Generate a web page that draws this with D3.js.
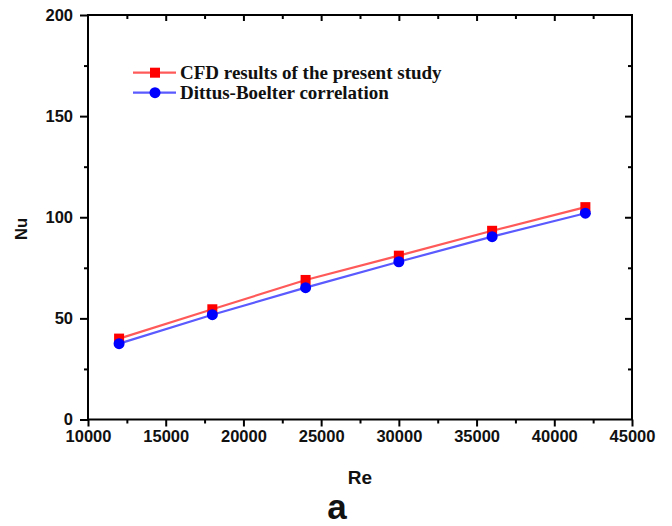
<!DOCTYPE html>
<html>
<head>
<meta charset="utf-8">
<script src="https://cdn.jsdelivr.net/npm/d3@7"></script>
<style>
  body { margin: 0; background: #fff; }
  svg { display: block; }
</style>
</head>
<body>
<svg id="chart" width="672" height="526"></svg>
<script>
// Reynolds numbers and Nusselt numbers for both data sets
const reValues = [12000, 18000, 24000, 30000, 36000, 42000];
const nuCFD = [40, 54.5, 69, 81, 93.3, 105];
const nuDittus = [37.5, 51.8, 65.2, 78, 90.4, 102];
const xTicks = [10000, 15000, 20000, 25000, 30000, 35000, 40000, 45000];
const yTicks = [0, 50, 100, 150, 200];
const seriesNames = ["CFD results of the present study", "Dittus-Boelter correlation"];

const svg = d3.select("#chart");
const plotL = 88, plotR = 632, plotT = 15, plotB = 419.5;

const x = d3.scaleLinear().domain([10000, 45000]).range([plotL, plotR]);
const y = d3.scaleLinear().domain([0, 200]).range([plotB, plotT]);

const xMinor = d3.range(12500, 45000, 5000);
const yMinor = d3.range(25, 200, 50);

// frame
svg.append("rect")
  .attr("x", plotL).attr("y", plotT)
  .attr("width", plotR - plotL).attr("height", plotB - plotT)
  .attr("fill", "none").attr("stroke", "#000").attr("stroke-width", 2);

const axisFont = "Arial, 'Liberation Sans', sans-serif";

// bottom axis
const gx = svg.append("g").attr("transform", `translate(0,${plotB})`)
  .call(d3.axisBottom(x).tickValues(xTicks).tickSize(7).tickPadding(4).tickFormat(d3.format("d")));
gx.select(".domain").remove();
gx.selectAll(".tick line").attr("stroke-width", 2);
gx.selectAll("text").attr("font-family", axisFont).attr("font-weight", "bold")
  .attr("font-size", 16.5).attr("fill", "#111");
svg.append("g").attr("transform", `translate(0,${plotB})`)
  .call(d3.axisBottom(x).tickValues(xMinor).tickSize(4).tickFormat(""))
  .call(g => g.select(".domain").remove())
  .selectAll(".tick line").attr("stroke-width", 2);

// left axis
const gy = svg.append("g").attr("transform", `translate(${plotL},0)`)
  .call(d3.axisLeft(y).tickValues(yTicks).tickSize(8).tickPadding(7));
gy.select(".domain").remove();
gy.selectAll(".tick line").attr("stroke-width", 2);
gy.selectAll("text").attr("font-family", axisFont).attr("font-weight", "bold")
  .attr("font-size", 16.5).attr("fill", "#111");
svg.append("g").attr("transform", `translate(${plotL},0)`)
  .call(d3.axisLeft(y).tickValues(yMinor).tickSize(4).tickFormat(""))
  .call(g => g.select(".domain").remove())
  .selectAll(".tick line").attr("stroke-width", 2);

// top axis, inward ticks
svg.append("g").attr("transform", `translate(0,${plotT})`)
  .call(d3.axisBottom(x).tickValues(xTicks.slice(1, -1)).tickSize(6).tickFormat(""))
  .call(g => g.select(".domain").remove())
  .selectAll(".tick line").attr("stroke-width", 2);
svg.append("g").attr("transform", `translate(0,${plotT})`)
  .call(d3.axisBottom(x).tickValues(xMinor).tickSize(4).tickFormat(""))
  .call(g => g.select(".domain").remove())
  .selectAll(".tick line").attr("stroke-width", 2);

// right axis, inward ticks
svg.append("g").attr("transform", `translate(${plotR},0)`)
  .call(d3.axisLeft(y).tickValues(yTicks.slice(1, -1)).tickSize(7).tickFormat(""))
  .call(g => g.select(".domain").remove())
  .selectAll(".tick line").attr("stroke-width", 2);
svg.append("g").attr("transform", `translate(${plotR},0)`)
  .call(d3.axisLeft(y).tickValues(yMinor).tickSize(4).tickFormat(""))
  .call(g => g.select(".domain").remove())
  .selectAll(".tick line").attr("stroke-width", 2);

// axis titles
svg.append("text").attr("x", 360).attr("y", 484).attr("text-anchor", "middle")
  .attr("font-family", axisFont).attr("font-weight", "bold").attr("font-size", 19)
  .attr("fill", "#111").text("Re");
svg.append("text").attr("transform", "translate(26.5,229) rotate(-90)").attr("text-anchor", "middle")
  .attr("font-family", axisFont).attr("font-weight", "bold").attr("font-size", 16.5)
  .attr("fill", "#111").text("Nu");
svg.append("text").attr("x", 337).attr("y", 519).attr("text-anchor", "middle")
  .attr("font-family", axisFont).attr("font-weight", "bold").attr("font-size", 35)
  .attr("fill", "#111").text("a");

const line = d3.line().x(d => x(d[0])).y(d => y(d[1]));
const cfd = reValues.map((r, i) => [r, nuCFD[i]]);
const dit = reValues.map((r, i) => [r, nuDittus[i]]);

const redLine = "#ff5a5a", blueLine = "#5a5aff";

svg.append("path").datum(cfd).attr("d", line).attr("fill", "none")
  .attr("stroke", redLine).attr("stroke-width", 2.2);
svg.append("path").datum(dit).attr("d", line).attr("fill", "none")
  .attr("stroke", blueLine).attr("stroke-width", 2.2);

svg.selectAll(".sq").data(cfd).join("rect").attr("class", "sq")
  .attr("x", d => x(d[0]) - 5).attr("y", d => y(d[1]) - 5)
  .attr("width", 10).attr("height", 10).attr("fill", "#ff0000");
svg.selectAll(".ci").data(dit).join("circle").attr("class", "ci")
  .attr("cx", d => x(d[0])).attr("cy", d => y(d[1])).attr("r", 5.5).attr("fill", "#0000ff");

// legend
const legend = svg.append("g");
const legY = [72.7, 92.7];
legend.append("line").attr("x1", 133).attr("x2", 176).attr("y1", legY[0]).attr("y2", legY[0])
  .attr("stroke", redLine).attr("stroke-width", 2.2);
legend.append("rect").attr("x", 150).attr("y", legY[0] - 5).attr("width", 10).attr("height", 10)
  .attr("fill", "#ff0000");
legend.append("line").attr("x1", 133).attr("x2", 176).attr("y1", legY[1]).attr("y2", legY[1])
  .attr("stroke", blueLine).attr("stroke-width", 2.2);
legend.append("circle").attr("cx", 155).attr("cy", legY[1]).attr("r", 5.5).attr("fill", "#0000ff");
seriesNames.forEach((name, i) => {
  legend.append("text").attr("x", 180).attr("y", legY[i] + 6)
    .attr("font-family", "'Liberation Serif', 'Times New Roman', serif")
    .attr("font-weight", "bold").attr("font-size", 19).attr("fill", "#111").text(name);
});
</script>
</body>
</html>
